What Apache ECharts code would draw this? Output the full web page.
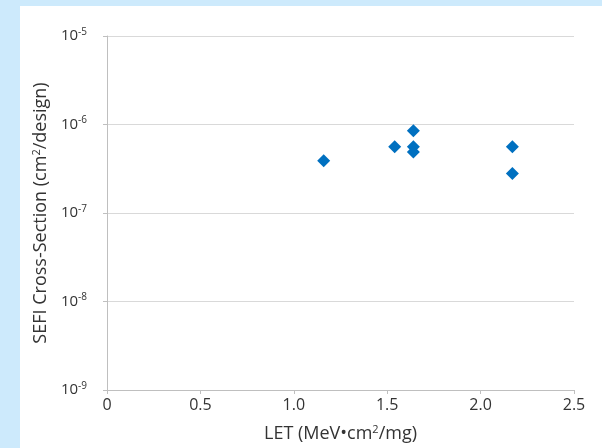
<!DOCTYPE html>
<html>
<head>
<meta charset="utf-8">
<script src="https://cdn.jsdelivr.net/npm/echarts@6/dist/echarts.min.js"></script>
<style>
  html, body { margin: 0; padding: 0; background: #cdeafc; }
  #chart { width: 602px; height: 448px; }
</style>
</head>
<body>
<div id="chart"></div>
<script>
// LET (MeV*cm2/mg) vs SEFI cross-section (cm2/design)
var letValues = [1.16, 1.54, 1.64, 1.64, 1.64, 2.17, 2.17]
var crossSections = [3.9e-7, 5.6e-7, 8.5e-7, 5.6e-7, 4.9e-7, 5.6e-7, 2.8e-7]
var xTicks = [0, 0.5, 1.0, 1.5, 2.0, 2.5]

var points = letValues.map(function (x, i) {
  return [x, crossSections[i]]
})

var chart = echarts.init(document.getElementById('chart'))
var font = 'Open Sans'
var textColor = '#333'

chart.setOption({
  backgroundColor: '#cdeafc',
  animation: false,
  graphic: [{
    type: 'rect',
    left: 20,
    top: 6,
    shape: { width: 582, height: 442 },
    style: { fill: '#fff' },
    z: -10
  }],
  grid: {
    left: 107,
    right: 28,
    top: 36,
    bottom: 58
  },
  xAxis: {
    type: 'value',
    min: xTicks[0],
    max: xTicks[xTicks.length - 1],
    interval: 0.5,
    name: 'LET (MeV•cm{sup|2}/mg)',
    nameLocation: 'middle',
    nameGap: 34,
    nameTextStyle: {
      fontFamily: font,
      fontSize: 18,
      color: textColor,
      rich: {
        sup: { fontSize: 11, padding: [0, 0, 8, 0], fontFamily: font, color: textColor }
      }
    },
    axisLine: { show: true, lineStyle: { color: '#bfbfbf' } },
    axisTick: { show: true, length: 4, lineStyle: { color: '#bfbfbf' } },
    splitLine: { show: false },
    axisLabel: {
      margin: 7,
      fontFamily: font,
      fontSize: 16,
      color: textColor,
      formatter: function (v) {
        return v === 0 ? '0' : v.toFixed(1)
      }
    }
  },
  yAxis: {
    type: 'log',
    logBase: 10,
    min: 1e-9,
    max: 1e-5,
    name: 'SEFI Cross-Section (cm{sup|2}/design)',
    nameLocation: 'middle',
    nameGap: 52,
    nameTextStyle: {
      fontFamily: font,
      fontSize: 18,
      color: textColor,
      rich: {
        sup: { fontSize: 11, padding: [0, 0, 8, 0], fontFamily: font, color: textColor }
      }
    },
    axisLine: { show: true, lineStyle: { color: '#bfbfbf' } },
    axisTick: { show: true, length: 4, lineStyle: { color: '#bfbfbf' } },
    splitLine: { show: true, lineStyle: { color: '#d9d9d9' } },
    axisLabel: {
      margin: 20,
      fontFamily: font,
      fontSize: 15,
      color: textColor,
      formatter: function (v) {
        var e = Math.round(Math.log10(v))
        return '10{sup|' + e + '}'
      },
      rich: {
        sup: { fontSize: 10, padding: [0, 0, 8, 0], fontFamily: font, color: textColor }
      }
    }
  },
  series: [{
    type: 'scatter',
    symbol: 'diamond',
    symbolSize: 13,
    itemStyle: { color: '#0070c0', opacity: 1 },
    data: points
  }]
})
</script>
</body>
</html>
